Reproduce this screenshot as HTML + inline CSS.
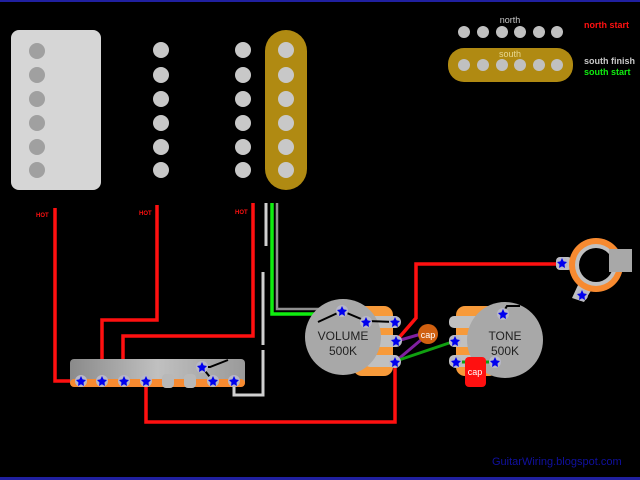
<!DOCTYPE html>
<html><head><style>html,body{margin:0;padding:0;background:#000;}svg{display:block}</style></head>
<body>
<svg width="640" height="480" viewBox="0 0 640 480" xmlns="http://www.w3.org/2000/svg" font-family="Liberation Sans, DejaVu Sans, sans-serif">
<defs>
<linearGradient id="sw" x1="0" x2="1"><stop offset="0" stop-color="#8a8a8a"/><stop offset="0.5" stop-color="#c0c0c0"/><stop offset="1" stop-color="#9a9a9a"/></linearGradient>
<g id="lug"><circle r="6" fill="#b8b8c8"/><path d="M0,-5 L1.6,-1.6 L5,-1 L2.5,1.5 L3,5 L0,3.2 L-3,5 L-2.5,1.5 L-5,-1 L-1.6,-1.6Z" fill="#0000ee"/></g>
</defs>
<rect width="640" height="480" fill="#000"/>
<rect x="0" y="0" width="640" height="2" fill="#2020a0"/>
<rect x="0" y="477" width="640" height="3" fill="#2020a0"/>

<!-- humbucker -->
<rect x="11" y="30" width="90" height="160" rx="8" fill="#d6d6d6"/>
<g fill="#a0a0a0"><circle cx="37" cy="51" r="8"/><circle cx="37" cy="75" r="8"/><circle cx="37" cy="99" r="8"/><circle cx="37" cy="123" r="8"/><circle cx="37" cy="147" r="8"/><circle cx="37" cy="170" r="8"/></g>
<g fill="#c8c8c8">
<circle cx="161" cy="50" r="8"/><circle cx="161" cy="75" r="8"/><circle cx="161" cy="99" r="8"/><circle cx="161" cy="123" r="8"/><circle cx="161" cy="147" r="8"/><circle cx="161" cy="170" r="8"/>
<circle cx="243" cy="50" r="8"/><circle cx="243" cy="75" r="8"/><circle cx="243" cy="99" r="8"/><circle cx="243" cy="123" r="8"/><circle cx="243" cy="147" r="8"/><circle cx="243" cy="170" r="8"/>
</g>
<rect x="265" y="30" width="42" height="160" rx="21" fill="#b08a12"/>
<g fill="#c8c8c8"><circle cx="286" cy="50" r="8"/><circle cx="286" cy="75" r="8"/><circle cx="286" cy="99" r="8"/><circle cx="286" cy="123" r="8"/><circle cx="286" cy="147" r="8"/><circle cx="286" cy="170" r="8"/></g>

<!-- legend -->
<text x="510" y="23" font-size="9" fill="#c8c8c8" text-anchor="middle">north</text>
<g fill="#c0c0c0"><circle cx="464" cy="32" r="6"/><circle cx="483" cy="32" r="6"/><circle cx="502" cy="32" r="6"/><circle cx="520" cy="32" r="6"/><circle cx="539" cy="32" r="6"/><circle cx="557" cy="32" r="6"/></g>
<rect x="448" y="48" width="125" height="34" rx="16" fill="#b08a12"/>
<text x="510" y="57" font-size="9" fill="#e8d890" text-anchor="middle">south</text>
<g fill="#c0c0c0"><circle cx="464" cy="65" r="6"/><circle cx="483" cy="65" r="6"/><circle cx="502" cy="65" r="6"/><circle cx="520" cy="65" r="6"/><circle cx="539" cy="65" r="6"/><circle cx="557" cy="65" r="6"/></g>
<text x="584" y="28" font-size="9" font-weight="bold" fill="#ff1010">north start</text>
<text x="584" y="64" font-size="9" font-weight="bold" fill="#c8c8c8">south finish</text>
<text x="584" y="75" font-size="9" font-weight="bold" fill="#10ee10">south start</text>

<!-- HOT labels -->
<g font-size="6" font-weight="bold" fill="#ff1010"><text x="36" y="217">HOT</text><text x="139" y="215">HOT</text><text x="235" y="214">HOT</text></g>

<!-- wires -->
<g fill="none" stroke-width="3.5" stroke-linejoin="miter">
<polyline points="55,208 55,381 80,381" stroke="#ff1010"/>
<polyline points="157,205 157,320 102,320 102,381" stroke="#ff1010"/>
<polyline points="253,203 253,336 123,336 123,381" stroke="#ff1010"/>
<polyline points="146,381 146,422 395,422 395,362" stroke="#ff1010"/>
<polyline points="397,340 416,318 416,264 560,264" stroke="#ff1010"/>
<line x1="266" y1="203" x2="266" y2="246" stroke="#d0d0d0" stroke-width="3"/>
<polyline points="263,272 263,345" stroke="#d0d0d0" stroke-width="3"/>
<polyline points="263,350 263,395 234,395 234,385" stroke="#d0d0d0" stroke-width="3"/>
<polyline points="277,203 277,309 340,309" stroke="#909090" stroke-width="2.5"/>
<polyline points="272,203 272,314 340,314" stroke="#10ee10"/>
<line x1="397" y1="341" x2="428" y2="332" stroke="#8020a0" stroke-width="3"/>
<line x1="396" y1="361" x2="428" y2="334" stroke="#8020a0" stroke-width="3"/>
<line x1="396" y1="361" x2="455" y2="341" stroke="#10a010" stroke-width="3"/>
</g>

<!-- switch -->
<rect x="70" y="359" width="175" height="27" rx="4" fill="url(#sw)"/>
<rect x="70" y="379" width="175" height="8" rx="4" fill="#f78a30"/>
<rect x="162" y="374" width="12" height="14" rx="4" fill="#b8b8b8"/>
<rect x="184" y="374" width="12" height="14" rx="4" fill="#b8b8b8"/>
<polyline points="228,360 210,367 202,367 213,381" fill="none" stroke="#000" stroke-width="2"/>
<use href="#lug" x="202" y="367"/>
<use href="#lug" x="81" y="381"/><use href="#lug" x="102" y="381"/><use href="#lug" x="124" y="381"/><use href="#lug" x="146" y="381"/><use href="#lug" x="213" y="381"/><use href="#lug" x="234" y="381"/>

<!-- volume pot -->
<rect x="353" y="306" width="40" height="70" rx="9" fill="#f79a3a"/>
<rect x="365" y="316" width="35" height="12" rx="5" fill="#c0c0c0"/>
<rect x="365" y="335" width="35" height="12" rx="5" fill="#c0c0c0"/>
<rect x="365" y="355" width="35" height="12" rx="5" fill="#c0c0c0"/>
<circle cx="343" cy="337" r="38" fill="#a8a8a8"/>
<polyline points="318,322 342,311 366,321 395,322" fill="none" stroke="#000" stroke-width="2"/>
<text x="343" y="340" font-size="12" fill="#222" text-anchor="middle">VOLUME</text>
<text x="343" y="355" font-size="12" fill="#222" text-anchor="middle">500K</text>
<use href="#lug" x="342" y="311"/><use href="#lug" x="366" y="322"/><use href="#lug" x="395" y="322"/><use href="#lug" x="396" y="341"/><use href="#lug" x="395" y="362"/>
<circle cx="428" cy="334" r="10" fill="#d06010"/>
<text x="428" y="338" font-size="9" fill="#fff" text-anchor="middle">cap</text>

<!-- tone pot -->
<rect x="456" y="306" width="42" height="70" rx="9" fill="#f79a3a"/>
<rect x="449" y="316" width="35" height="12" rx="5" fill="#c0c0c0"/>
<rect x="449" y="335" width="35" height="12" rx="5" fill="#c0c0c0"/>
<rect x="449" y="355" width="35" height="12" rx="5" fill="#c0c0c0"/>
<circle cx="505" cy="340" r="38" fill="#a8a8a8"/>
<polyline points="502,314 507,306 520,306" fill="none" stroke="#000" stroke-width="2"/>
<line x1="456" y1="362" x2="495" y2="362" stroke="#10a010" stroke-width="3"/>
<text x="505" y="340" font-size="12" fill="#222" text-anchor="middle">TONE</text>
<text x="505" y="355" font-size="12" fill="#222" text-anchor="middle">500K</text>
<use href="#lug" x="503" y="314"/><use href="#lug" x="455" y="341"/><use href="#lug" x="456" y="362"/><use href="#lug" x="495" y="362"/>
<rect x="465" y="357" width="21" height="30" rx="4" fill="#ff1010"/>
<text x="475" y="375" font-size="9" fill="#fff" text-anchor="middle">cap</text>

<!-- jack -->
<rect x="556" y="257" width="16" height="13" rx="4" fill="#c0c0c0"/>
<path d="M578,285 L572,298 L584,302 L592,289Z" fill="#c0c0c0"/>
<circle cx="596" cy="265" r="27" fill="#f78a30"/>
<circle cx="596" cy="265" r="21" fill="#c0c0c0"/>
<circle cx="596" cy="265" r="17" fill="#000"/>
<rect x="609" y="249" width="23" height="23" fill="#a8a8a8"/>
<use href="#lug" x="562" y="263"/><use href="#lug" x="582" y="295"/>

<text x="492" y="465" font-size="11" fill="#1010a0">GuitarWiring.blogspot.com</text>
</svg>
</body></html>
